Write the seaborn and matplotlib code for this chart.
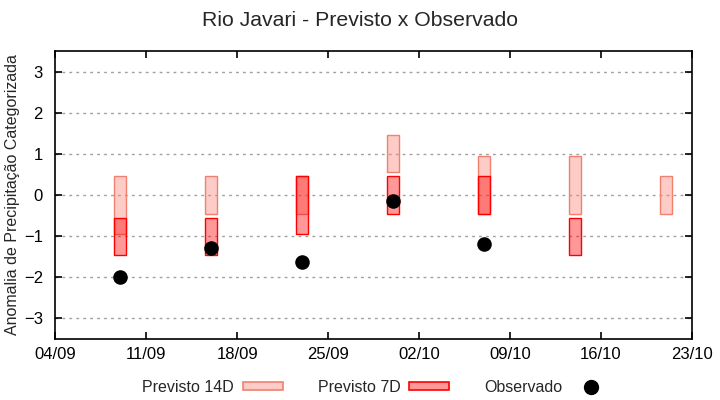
import numpy as np
import pandas as pd
import seaborn as sns
import matplotlib.pyplot as plt
import matplotlib.dates as mdates
from matplotlib.patches import Rectangle
from matplotlib.lines import Line2D

# datas das previsões / observações
datas = pd.to_datetime(['2024-09-09', '2024-09-16', '2024-09-23', '2024-09-30',
                        '2024-10-07', '2024-10-14', '2024-10-21'])

# faixas das categorias previstas (limite inferior e superior)
prev14_inf = [-0.95, -0.45, -0.45, 0.55, -0.45, -0.45, -0.45]
prev14_sup = [0.45, 0.45, 0.45, 1.45, 0.95, 0.95, 0.45]
prev7_inf = [-1.45, -1.45, -0.95, -0.45, -0.45, -1.45, np.nan]
prev7_sup = [-0.55, -0.55, 0.45, 0.45, 0.45, -0.55, np.nan]

# anomalia observada
observado = [-2.0, -1.3, -1.62, -0.15, -1.2, np.nan, np.nan]

ticks_x = pd.date_range('2024-09-04', '2024-10-23', freq='7D')


def grafico():
    sns.set_theme(style='white')
    plt.rcParams['font.family'] = ['Liberation Sans', 'DejaVu Sans']

    fig = plt.figure(figsize=(7.2, 4.0), dpi=100)
    ax = fig.add_axes([0.077, 0.1525, 0.884, 0.72])

    p14 = np.array(prev14_sup) - np.array(prev14_inf)
    p7 = np.array(prev7_sup) - np.array(prev7_inf)

    ax.bar(datas, p14, bottom=prev14_inf, width=0.92,
           facecolor=(0.98, 0.5, 0.45, 0.4), edgecolor='#f08070',
           linewidth=1.0, zorder=2)
    ax.bar(datas, p7, bottom=prev7_inf, width=0.92,
           facecolor=(1.0, 0.0, 0.0, 0.4), edgecolor='red',
           linewidth=1.0, zorder=3)

    df_obs = pd.DataFrame({'data': datas, 'obs': observado}).dropna()
    sns.scatterplot(data=df_obs, x='data', y='obs', color='black', s=110,
                    edgecolor='black', linewidth=0, zorder=4, ax=ax)

    ax.set_xlim(pd.Timestamp('2024-09-04'), pd.Timestamp('2024-10-23'))
    ax.set_ylim(-3.5, 3.5)
    ax.set_xticks(ticks_x)
    ax.xaxis.set_major_formatter(mdates.DateFormatter('%d/%m'))
    ax.set_yticks(range(-3, 4))
    ax.set_xlabel('')
    ax.set_ylabel('Anomalia de Precipitação Categorizada', fontsize=11.5, labelpad=3)

    ax.tick_params(axis='both', direction='in', length=5, width=1.2,
                   labelsize=12, color='black', labelcolor='black',
                   top=True, right=True, bottom=True, left=True)
    ax.tick_params(axis='y', pad=9)
    ax.tick_params(axis='x', pad=6)
    for s in ax.spines.values():
        s.set_color('black')
        s.set_linewidth(1.2)
    ax.yaxis.grid(True, color='#a0a0a0', linestyle=(0, (2, 3)), linewidth=1.0, zorder=1)
    ax.xaxis.grid(False)
    ax.set_axisbelow(True)

    fig.suptitle('Rio Javari - Previsto x Observado', fontsize=15.3, y=0.95, va='center')

    handles = [
        Rectangle((0, 0), 1, 1, facecolor=(0.98, 0.5, 0.45, 0.4), edgecolor='#f08070', linewidth=1.2),
        Rectangle((0, 0), 1, 1, facecolor=(1.0, 0.0, 0.0, 0.4), edgecolor='red', linewidth=1.2),
        Line2D([], [], marker='o', color='black', linestyle='none', markersize=10),
    ]
    fig.legend(handles, ['Previsto 14D', 'Previsto 7D', 'Observado'],
               loc='center', bbox_to_anchor=(0.523, 0.032), ncol=3, frameon=False,
               markerfirst=False, fontsize=11.5, handlelength=2.5, handleheight=0.4,
               handletextpad=0.55, columnspacing=2.2)

    plt.savefig('out.png', dpi=100)
    plt.close()


if __name__ == '__main__':
    grafico()
